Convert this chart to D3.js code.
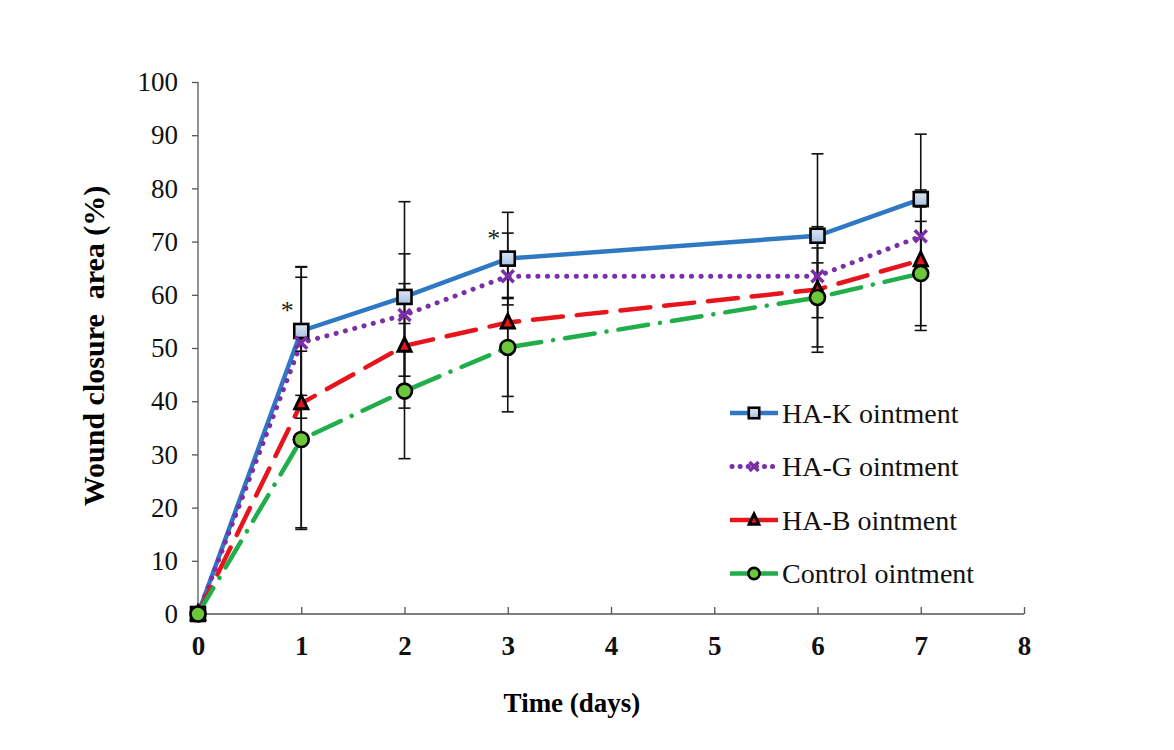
<!DOCTYPE html>
<html>
<head>
<meta charset="utf-8">
<script src="https://cdn.jsdelivr.net/npm/d3@7"></script>
<style>
  body { margin: 0; background: #fff; }
  text { font-family: "Times New Roman", "Liberation Serif", serif; }
</style>
</head>
<body>
<svg width="1174" height="750"></svg>
<script>
// data
const days = [0, 1, 2, 3, 6, 7];
const haK = [0, 53.2, 59.6, 66.8, 71.1, 78.0];
const haKErr = [0, 12.1, 17.9, 8.7, 15.4, 12.2];
const haG = [0, 51.0, 56.2, 63.5, 63.5, 71.0];
const haGErr = [0, 14.2, 11.5, 4.0, 2.5, 5.5];
const haB = [0, 39.6, 50.4, 54.8, 61.0, 66.5];
const haBErr = [0, 23.7, 11.7, 16.8, 11.8, 13.2];
const ctrl = [0, 32.8, 41.9, 50.1, 59.5, 64.0];
const ctrlErr = [0, 16.6, 12.7, 9.2, 9.3, 9.8];
const seriesNames = ["HA-K ointment", "HA-G ointment", "HA-B ointment", "Control ointment"];
const starDays = [1, 3];
const xTicks = [0, 1, 2, 3, 4, 5, 6, 7, 8];
const yTicks = [0, 10, 20, 30, 40, 50, 60, 70, 80, 90, 100];

const svg = d3.select('svg');
const margin = {top: 82, right: 150, bottom: 136, left: 198};
const width = +svg.attr('width');
const height = +svg.attr('height');
const innerWidth = width - margin.left - margin.right;
const innerHeight = height - margin.top - margin.bottom;

const x = d3.scaleLinear().domain([0, 8]).range([margin.left, margin.left + innerWidth]);
const y = d3.scaleLinear().domain([0, 100]).range([margin.top + innerHeight, margin.top]);

const series = [
  {name: seriesNames[0], vals: haK, err: haKErr, color: '#2f78c4', dash: null, marker: 'square'},
  {name: seriesNames[1], vals: haG, err: haGErr, color: '#7a2fa6', dash: '0.1 9.5', marker: 'x'},
  {name: seriesNames[2], vals: haB, err: haBErr, color: '#e8141c', dash: '30 14', marker: 'triangle'},
  {name: seriesNames[3], vals: ctrl, err: ctrlErr, color: '#1fae4a', dash: '30 12 0.1 12', marker: 'circle'}
];

// axes
const yAxis = d3.axisLeft(y).tickValues(yTicks).tickSize(6).tickPadding(14);
const gy = svg.append('g').attr('transform', `translate(${x(0)},0)`).call(yAxis);
gy.attr('font-size', 27).attr('font-family', null);
gy.selectAll('text').attr('fill', '#111');

const xAxis = d3.axisBottom(x).tickValues(xTicks).tickSize(-7).tickPadding(22);
const gx = svg.append('g').attr('transform', `translate(0,${y(0)})`).call(xAxis);
gx.attr('font-size', 27).attr('font-family', null).attr('font-weight', 'bold');
gx.selectAll('text').attr('fill', '#111');
gx.select('.tick line').remove(); // no tick at 0
[gx, gy].forEach(g => {
  g.select('.domain').attr('stroke', '#555').attr('stroke-width', 1.3);
  g.selectAll('.tick line').attr('stroke', '#555').attr('stroke-width', 1.3);
});
gy.select('.domain').attr('d', `M0,${y(100)}V${y(0)}`);
gx.select('.domain').attr('d', `M${x(0)},0H${x(8)}`);

svg.append('text').attr('x', 572).attr('y', 712).attr('text-anchor', 'middle')
  .attr('font-size', 27).attr('font-weight', 'bold').text('Time (days)');
svg.append('text').attr('transform', `translate(104,${(y(0) + y(100)) / 2 - 2}) rotate(-90)`)
  .attr('text-anchor', 'middle').attr('font-size', 30).attr('font-weight', 'bold')
  .style('white-space', 'pre').text('Wound closure  area (%)');

// lines
const line = d3.line().x(d => x(d[0])).y(d => y(d[1]));
series.forEach(s => {
  svg.append('path')
    .datum(days.map((d, i) => [d, s.vals[i]]))
    .attr('d', line).attr('fill', 'none')
    .attr('stroke', s.color).attr('stroke-width', s.marker === 'x' ? 5 : 4.5)
    .attr('stroke-linecap', s.dash ? 'round' : 'butt')
    .attr('stroke-dasharray', s.dash);
});

// error bars
const capW = 6;
series.forEach(s => {
  const g = svg.append('g').attr('stroke', '#111').attr('stroke-width', 1.6);
  days.forEach((d, i) => {
    if (!s.err[i]) return;
    const top = y(s.vals[i] + s.err[i]), bot = y(s.vals[i] - s.err[i]), cx = x(d);
    g.append('line').attr('x1', cx).attr('x2', cx).attr('y1', top).attr('y2', bot);
    g.append('line').attr('x1', cx - capW).attr('x2', cx + capW).attr('y1', top).attr('y2', top);
    g.append('line').attr('x1', cx - capW).attr('x2', cx + capW).attr('y1', bot).attr('y2', bot);
  });
});

// markers
function drawMarker(g, type, cx, cy, color, k) {
  if (type === 'square') {
    g.append('rect').attr('x', cx - 7 * k).attr('y', cy - 7 * k).attr('width', 14 * k).attr('height', 14 * k)
      .attr('fill', 'url(#sqfill)').attr('stroke', '#000').attr('stroke-width', 2.6);
  } else if (type === 'x') {
    const r = 6 * k;
    g.append('path').attr('d', `M${cx - r},${cy - r}L${cx + r},${cy + r}M${cx - r},${cy + r}L${cx + r},${cy - r}`)
      .attr('stroke', color).attr('stroke-width', 3.5).attr('fill', 'none');
  } else if (type === 'triangle') {
    g.append('path').attr('d', `M${cx},${cy - 8 * k}L${cx + 6.5 * k},${cy + 5.5 * k}L${cx - 6.5 * k},${cy + 5.5 * k}Z`)
      .attr('fill', color).attr('stroke', '#000').attr('stroke-width', 3).attr('stroke-linejoin', 'miter');
  } else {
    g.append('circle').attr('cx', cx).attr('cy', cy).attr('r', 7.5 * k)
      .attr('fill', '#6cc83a').attr('stroke', '#000').attr('stroke-width', 2.6);
  }
}
const defs = svg.append('defs');
const grad = defs.append('linearGradient').attr('id', 'sqfill').attr('x1', 0).attr('y1', 0).attr('x2', 0).attr('y2', 1);
grad.append('stop').attr('offset', '0%').attr('stop-color', '#dde6f3');
grad.append('stop').attr('offset', '100%').attr('stop-color', '#a9c1e2');

series.forEach(s => {
  const g = svg.append('g');
  days.forEach((d, i) => drawMarker(g, s.marker, x(d), y(s.vals[i]), s.color, 1));
});

// significance stars
starDays.forEach(d => {
  const i = days.indexOf(d);
  svg.append('text').attr('x', x(d) - 14).attr('y', y(haK[i]) - 12)
    .attr('text-anchor', 'middle').attr('font-size', 26).attr('fill', '#222').text('*');
});

// legend
const legend = svg.append('g').attr('transform', 'translate(730,413)');
series.forEach((s, i) => {
  const row = legend.append('g').attr('transform', `translate(0,${i * 53.5})`);
  if (s.marker === 'x') {
    row.append('path').attr('d', 'M2,0H48').attr('stroke', s.color).attr('stroke-width', 5)
      .attr('stroke-linecap', 'round').attr('stroke-dasharray', '0.1 8');
  } else {
    row.append('path').attr('d', 'M0,0H48').attr('stroke', s.color).attr('stroke-width', 4.5);
  }
  drawMarker(row, s.marker, 24, 0, s.color, 0.75);
  row.append('text').attr('x', 52).attr('y', 0).attr('dy', '0.35em')
    .attr('font-size', 28).attr('fill', '#111').text(s.name);
});
</script>
</body>
</html>
